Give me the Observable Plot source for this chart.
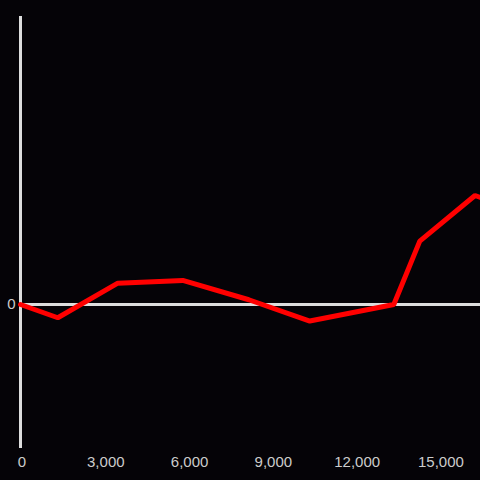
<!DOCTYPE html>
<html>
<head>
<meta charset="utf-8">
<script src="https://cdn.jsdelivr.net/npm/d3@7"></script>
<script src="https://cdn.jsdelivr.net/npm/@observablehq/plot@0.6"></script>
<style>
  html, body { margin: 0; padding: 0; background: #050307; }
  #chart { width: 480px; height: 480px; }
</style>
</head>
<body>
<div id="chart"></div>
<script>
const xValues = [0, 1335, 3484, 5811, 8174, 10358, 13366, 14296, 16273, 16470];
const yValues = [0, -0.092, 0.148, 0.167, 0.033, -0.115, 0, 0.44, 0.757, 0.743];
const xTicks = [0, 3000, 6000, 9000, 12000, 15000];
const yTicks = [0];

const data = xValues.map((x, i) => ({x, y: yValues[i]}));

const chart = Plot.plot({
  width: 480,
  height: 480,
  marginLeft: 20,
  marginRight: 0,
  marginTop: 16,
  marginBottom: 32,
  style: {background: "#050307", color: "#cccccc", fontSize: "15px", fontFamily: "'Liberation Sans', Arial, sans-serif"},
  x: {domain: [0, 16470], label: null},
  y: {domain: [-1, 2], label: null},
  marks: [
    Plot.axisX(xTicks, {tickFormat: d3.format(","), tickSize: 0, tickPadding: 8, dx: 1.5, fontSize: 15}),
    Plot.axisY(yTicks, {tickFormat: d => String(d), tickSize: 0, tickPadding: 5, fontSize: 15}),
    Plot.ruleX([0], {stroke: "#dddddd", strokeWidth: 3}),
    Plot.ruleY([0], {stroke: "#dddddd", strokeWidth: 3}),
    Plot.line(data, {x: "x", y: "y", stroke: "#ff0000", strokeWidth: 5, strokeLinejoin: "miter"})
  ]
});
document.getElementById("chart").appendChild(chart);
</script>
</body>
</html>
